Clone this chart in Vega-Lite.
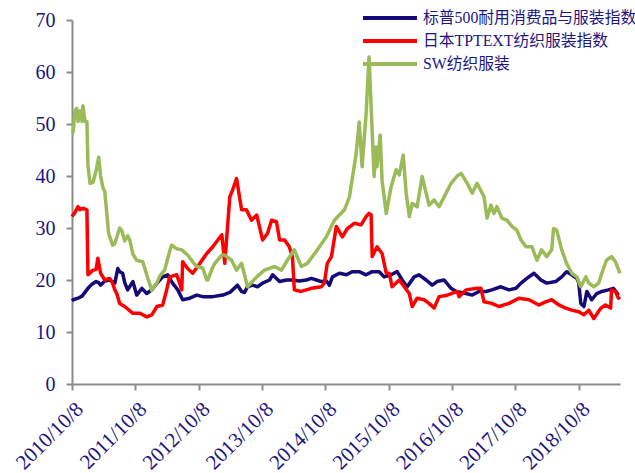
{
  "$schema": "https://vega.github.io/schema/vega-lite/v6.json",
  "width": 548,
  "height": 364,
  "autosize": {"type": "none"},
  "padding": {"left": 72, "top": 20, "right": 15, "bottom": 89},
  "background": "white",
  "config": {"view": {"stroke": null}, "font": "Liberation Serif"},
  "datasets": {
    "navy": [
      {"d":"2010-10-08","v":16.0},{"d":"2010-10-15","v":16.2},{"d":"2010-11-12","v":16.5},{"d":"2010-12-05","v":16.9},{"d":"2011-01-08","v":18.4},{"d":"2011-01-31","v":19.2},{"d":"2011-02-24","v":19.7},{"d":"2011-03-11","v":19.5},{"d":"2011-03-22","v":19.0},{"d":"2011-04-15","v":19.8},{"d":"2011-05-13","v":20.0},{"d":"2011-06-12","v":19.4},{"d":"2011-06-29","v":22.2},{"d":"2011-07-10","v":21.6},{"d":"2011-07-27","v":21.3},{"d":"2011-08-08","v":19.5},{"d":"2011-08-25","v":18.1},{"d":"2011-09-24","v":19.7},{"d":"2011-10-16","v":17.1},{"d":"2011-11-15","v":18.4},{"d":"2011-12-13","v":17.4},{"d":"2012-01-11","v":18.1},{"d":"2012-02-10","v":19.4},{"d":"2012-03-14","v":20.6},{"d":"2012-04-12","v":21.0},{"d":"2012-05-10","v":19.4},{"d":"2012-06-09","v":18.1},{"d":"2012-07-07","v":16.2},{"d":"2012-08-17","v":16.5},{"d":"2012-09-26","v":17.1},{"d":"2012-10-31","v":16.8},{"d":"2012-12-28","v":16.8},{"d":"2013-02-24","v":17.1},{"d":"2013-04-05","v":17.6},{"d":"2013-04-21","v":18.1},{"d":"2013-05-19","v":19.0},{"d":"2013-06-12","v":17.8},{"d":"2013-06-29","v":17.6},{"d":"2013-07-16","v":18.7},{"d":"2013-08-14","v":19.0},{"d":"2013-09-12","v":18.7},{"d":"2013-10-11","v":19.4},{"d":"2013-11-20","v":20.0},{"d":"2013-12-08","v":21.0},{"d":"2014-01-17","v":19.7},{"d":"2014-02-27","v":20.0},{"d":"2014-04-01","v":20.0},{"d":"2014-05-11","v":19.8},{"d":"2014-06-21","v":20.0},{"d":"2014-07-19","v":20.3},{"d":"2014-08-17","v":20.0},{"d":"2014-09-15","v":19.7},{"d":"2014-10-14","v":19.8},{"d":"2014-10-31","v":19.0},{"d":"2014-11-18","v":20.6},{"d":"2014-12-28","v":21.3},{"d":"2015-02-07","v":21.0},{"d":"2015-03-11","v":21.6},{"d":"2015-04-21","v":21.6},{"d":"2015-05-31","v":21.0},{"d":"2015-07-05","v":21.6},{"d":"2015-08-14","v":21.6},{"d":"2015-09-12","v":20.6},{"d":"2015-10-22","v":21.0},{"d":"2015-11-26","v":21.6},{"d":"2015-12-25","v":20.0},{"d":"2016-01-23","v":18.7},{"d":"2016-03-03","v":20.6},{"d":"2016-03-31","v":21.0},{"d":"2016-05-11","v":20.0},{"d":"2016-06-15","v":19.0},{"d":"2016-07-13","v":19.7},{"d":"2016-08-23","v":20.0},{"d":"2016-10-02","v":18.4},{"d":"2016-10-31","v":17.8},{"d":"2016-12-28","v":17.4},{"d":"2017-02-01","v":17.1},{"d":"2017-03-12","v":17.8},{"d":"2017-04-21","v":17.8},{"d":"2017-05-25","v":18.1},{"d":"2017-07-16","v":18.7},{"d":"2017-09-01","v":18.1},{"d":"2017-10-11","v":18.4},{"d":"2017-11-09","v":19.4},{"d":"2017-12-13","v":20.3},{"d":"2018-01-23","v":21.3},{"d":"2018-03-04","v":20.0},{"d":"2018-04-06","v":19.4},{"d":"2018-05-28","v":19.7},{"d":"2018-07-02","v":20.6},{"d":"2018-07-30","v":21.6},{"d":"2018-08-29","v":21.0},{"d":"2018-09-27","v":20.3},{"d":"2018-10-08","v":19.5},{"d":"2018-10-20","v":15.5},{"d":"2018-11-07","v":14.9},{"d":"2018-11-24","v":17.8},{"d":"2018-12-22","v":16.2},{"d":"2019-01-20","v":17.4},{"d":"2019-02-18","v":17.8},{"d":"2019-03-28","v":18.1},{"d":"2019-04-26","v":18.4},{"d":"2019-05-25","v":17.1}
    ],
    "red": [
      {"d":"2010-10-08","v":32.2},{"d":"2010-10-25","v":33.0},{"d":"2010-11-12","v":34.1},{"d":"2010-11-23","v":33.5},{"d":"2010-12-10","v":33.8},{"d":"2011-01-02","v":33.5},{"d":"2011-01-08","v":21.0},{"d":"2011-02-06","v":21.9},{"d":"2011-02-24","v":22.0},{"d":"2011-03-06","v":24.2},{"d":"2011-03-22","v":21.3},{"d":"2011-04-15","v":20.0},{"d":"2011-05-13","v":20.3},{"d":"2011-05-30","v":19.4},{"d":"2011-06-12","v":18.1},{"d":"2011-06-23","v":17.4},{"d":"2011-07-10","v":15.5},{"d":"2011-08-08","v":14.9},{"d":"2011-09-24","v":13.6},{"d":"2011-11-03","v":13.6},{"d":"2011-12-13","v":12.9},{"d":"2012-01-11","v":13.3},{"d":"2012-02-10","v":14.9},{"d":"2012-03-14","v":15.2},{"d":"2012-04-06","v":18.1},{"d":"2012-04-23","v":20.6},{"d":"2012-06-03","v":21.0},{"d":"2012-06-20","v":19.4},{"d":"2012-07-02","v":18.1},{"d":"2012-07-07","v":23.5},{"d":"2012-08-05","v":22.2},{"d":"2012-09-03","v":21.3},{"d":"2012-10-14","v":23.2},{"d":"2012-11-23","v":25.1},{"d":"2012-12-28","v":26.4},{"d":"2013-01-26","v":27.7},{"d":"2013-02-18","v":28.7},{"d":"2013-03-07","v":23.2},{"d":"2013-04-05","v":36.0},{"d":"2013-04-21","v":37.3},{"d":"2013-05-14","v":39.5},{"d":"2013-06-12","v":33.5},{"d":"2013-07-10","v":33.5},{"d":"2013-08-08","v":31.5},{"d":"2013-09-07","v":32.5},{"d":"2013-10-11","v":27.7},{"d":"2013-11-09","v":29.0},{"d":"2013-12-02","v":31.5},{"d":"2013-12-30","v":31.2},{"d":"2014-01-17","v":27.7},{"d":"2014-02-15","v":27.7},{"d":"2014-03-14","v":26.4},{"d":"2014-04-01","v":24.5},{"d":"2014-04-12","v":18.1},{"d":"2014-05-22","v":17.8},{"d":"2014-07-19","v":18.4},{"d":"2014-09-15","v":18.7},{"d":"2014-10-02","v":19.4},{"d":"2014-10-19","v":23.2},{"d":"2014-11-12","v":24.5},{"d":"2014-11-29","v":28.0},{"d":"2014-12-10","v":30.3},{"d":"2015-01-14","v":28.3},{"d":"2015-02-12","v":29.9},{"d":"2015-03-23","v":30.9},{"d":"2015-05-02","v":30.6},{"d":"2015-05-31","v":32.2},{"d":"2015-06-17","v":32.8},{"d":"2015-06-29","v":32.5},{"d":"2015-07-05","v":24.5},{"d":"2015-08-02","v":26.4},{"d":"2015-08-31","v":25.1},{"d":"2015-09-24","v":21.3},{"d":"2015-10-11","v":21.3},{"d":"2015-10-28","v":18.7},{"d":"2015-12-08","v":20.0},{"d":"2016-01-06","v":18.7},{"d":"2016-02-04","v":17.4},{"d":"2016-02-21","v":14.9},{"d":"2016-03-20","v":16.5},{"d":"2016-04-29","v":16.2},{"d":"2016-05-28","v":15.5},{"d":"2016-06-26","v":14.6},{"d":"2016-07-25","v":16.8},{"d":"2016-09-03","v":17.0},{"d":"2016-11-06","v":17.8},{"d":"2016-11-17","v":16.8},{"d":"2016-12-28","v":18.1},{"d":"2017-03-01","v":18.4},{"d":"2017-03-23","v":18.4},{"d":"2017-04-10","v":15.8},{"d":"2017-05-25","v":15.5},{"d":"2017-07-05","v":14.9},{"d":"2017-09-01","v":15.5},{"d":"2017-10-28","v":16.5},{"d":"2017-12-25","v":16.2},{"d":"2018-02-21","v":15.2},{"d":"2018-03-31","v":15.8},{"d":"2018-05-05","v":16.2},{"d":"2018-06-15","v":15.2},{"d":"2018-07-25","v":14.6},{"d":"2018-08-29","v":14.2},{"d":"2018-10-08","v":13.9},{"d":"2018-11-07","v":13.3},{"d":"2018-12-05","v":14.2},{"d":"2019-01-03","v":12.6},{"d":"2019-02-13","v":14.6},{"d":"2019-03-11","v":15.2},{"d":"2019-04-10","v":14.6},{"d":"2019-04-15","v":18.1},{"d":"2019-05-08","v":17.8},{"d":"2019-05-25","v":16.5},{"d":"2019-06-03","v":16.8}
    ],
    "green": [
      {"d":"2010-10-08","v":48.2},{"d":"2010-10-15","v":48.5},{"d":"2010-10-25","v":52.5},{"d":"2010-11-04","v":53.0},{"d":"2010-11-12","v":50.5},{"d":"2010-11-23","v":52.5},{"d":"2010-12-05","v":50.5},{"d":"2010-12-10","v":53.5},{"d":"2010-12-22","v":50.5},{"d":"2011-01-02","v":50.5},{"d":"2011-01-08","v":42.0},{"d":"2011-01-20","v":38.6},{"d":"2011-02-06","v":38.8},{"d":"2011-02-24","v":41.0},{"d":"2011-03-11","v":43.6},{"d":"2011-03-22","v":40.0},{"d":"2011-04-03","v":37.9},{"d":"2011-04-15","v":37.0},{"d":"2011-05-07","v":29.0},{"d":"2011-05-30","v":26.7},{"d":"2011-06-12","v":27.0},{"d":"2011-07-10","v":30.0},{"d":"2011-07-22","v":29.5},{"d":"2011-08-08","v":27.5},{"d":"2011-08-25","v":28.5},{"d":"2011-09-06","v":27.7},{"d":"2011-09-24","v":25.0},{"d":"2011-10-16","v":23.8},{"d":"2011-11-20","v":23.5},{"d":"2011-12-13","v":21.0},{"d":"2012-01-11","v":18.0},{"d":"2012-02-10","v":19.5},{"d":"2012-02-27","v":20.8},{"d":"2012-03-25","v":21.9},{"d":"2012-04-23","v":25.5},{"d":"2012-05-05","v":26.7},{"d":"2012-06-03","v":26.0},{"d":"2012-07-02","v":25.8},{"d":"2012-08-05","v":24.8},{"d":"2012-09-03","v":23.5},{"d":"2012-09-26","v":22.6},{"d":"2012-10-31","v":22.3},{"d":"2012-11-23","v":20.0},{"d":"2012-11-29","v":20.0},{"d":"2012-12-28","v":22.5},{"d":"2013-01-09","v":23.2},{"d":"2013-02-18","v":24.8},{"d":"2013-03-07","v":24.8},{"d":"2013-04-15","v":23.8},{"d":"2013-05-14","v":21.9},{"d":"2013-06-12","v":23.2},{"d":"2013-07-16","v":18.7},{"d":"2013-09-07","v":20.6},{"d":"2013-10-22","v":21.9},{"d":"2013-12-19","v":22.6},{"d":"2014-01-28","v":21.9},{"d":"2014-03-03","v":23.8},{"d":"2014-04-12","v":25.8},{"d":"2014-05-22","v":22.6},{"d":"2014-06-26","v":23.2},{"d":"2014-08-23","v":25.8},{"d":"2014-10-14","v":28.3},{"d":"2014-11-29","v":31.5},{"d":"2015-01-26","v":33.5},{"d":"2015-02-24","v":36.0},{"d":"2015-04-04","v":44.4},{"d":"2015-04-21","v":50.4},{"d":"2015-05-08","v":41.8},{"d":"2015-05-31","v":52.0},{"d":"2015-06-17","v":62.9},{"d":"2015-06-29","v":53.3},{"d":"2015-07-16","v":39.9},{"d":"2015-07-28","v":45.6},{"d":"2015-08-02","v":41.8},{"d":"2015-08-20","v":47.9},{"d":"2015-08-31","v":39.2},{"d":"2015-09-24","v":32.8},{"d":"2015-10-22","v":37.9},{"d":"2015-11-20","v":41.2},{"d":"2015-12-08","v":40.2},{"d":"2015-12-31","v":44.0},{"d":"2016-01-17","v":36.7},{"d":"2016-02-04","v":32.2},{"d":"2016-02-21","v":34.7},{"d":"2016-03-20","v":34.1},{"d":"2016-04-18","v":39.9},{"d":"2016-05-11","v":36.7},{"d":"2016-05-28","v":34.4},{"d":"2016-06-26","v":35.4},{"d":"2016-07-25","v":34.1},{"d":"2016-09-03","v":36.7},{"d":"2016-10-02","v":38.6},{"d":"2016-11-06","v":40.0},{"d":"2016-11-29","v":40.5},{"d":"2017-01-03","v":38.6},{"d":"2017-02-01","v":36.7},{"d":"2017-03-01","v":38.6},{"d":"2017-04-10","v":36.0},{"d":"2017-04-27","v":31.9},{"d":"2017-05-20","v":34.4},{"d":"2017-06-06","v":32.8},{"d":"2017-06-23","v":34.1},{"d":"2017-07-22","v":31.9},{"d":"2017-08-20","v":31.5},{"d":"2017-09-18","v":30.3},{"d":"2017-10-16","v":29.6},{"d":"2017-11-09","v":27.7},{"d":"2017-12-08","v":26.4},{"d":"2018-01-11","v":26.4},{"d":"2018-02-09","v":23.8},{"d":"2018-03-08","v":25.8},{"d":"2018-04-06","v":24.5},{"d":"2018-05-05","v":25.8},{"d":"2018-05-16","v":29.9},{"d":"2018-06-03","v":29.6},{"d":"2018-07-02","v":25.8},{"d":"2018-07-30","v":23.2},{"d":"2018-08-29","v":21.3},{"d":"2018-09-27","v":20.6},{"d":"2018-10-20","v":18.7},{"d":"2018-11-18","v":20.6},{"d":"2018-12-05","v":19.4},{"d":"2019-01-03","v":18.7},{"d":"2019-01-31","v":19.4},{"d":"2019-02-18","v":21.3},{"d":"2019-03-17","v":23.8},{"d":"2019-04-15","v":24.5},{"d":"2019-05-08","v":23.5},{"d":"2019-06-03","v":21.3}
    ]
  },
  "encoding": {
    "x": {
      "field": "d", "type": "temporal",
      "scale": {"type": "utc", "domain": [{"year": 2010, "month": 10, "date": 8, "utc": true}, {"year": 2019, "month": 6, "date": 3, "utc": true}], "nice": false},
      "axis": {
        "title": null, "grid": false,
        "values": [
          {"year": 2010, "month": 10, "date": 8, "utc": true},
          {"year": 2011, "month": 10, "date": 8, "utc": true},
          {"year": 2012, "month": 10, "date": 8, "utc": true},
          {"year": 2013, "month": 10, "date": 8, "utc": true},
          {"year": 2014, "month": 10, "date": 8, "utc": true},
          {"year": 2015, "month": 10, "date": 8, "utc": true},
          {"year": 2016, "month": 10, "date": 8, "utc": true},
          {"year": 2017, "month": 10, "date": 8, "utc": true},
          {"year": 2018, "month": 10, "date": 8, "utc": true}
        ],
        "labelExpr": "utcFormat(datum.value, '%Y/%-m/%-d')",
        "labelAngle": -45, "labelFontSize": 21, "labelFont": "Liberation Serif", "labelColor": "#1c1480",
        "domainColor": "#8c8c8c", "domainWidth": 2, "tickColor": "#8c8c8c", "tickWidth": 2, "tickSize": 6,
        "labelOverlap": false, "labelPadding": 8, "labelDx": -3
      }
    },
    "y": {
      "field": "v", "type": "quantitative",
      "scale": {"domain": [0, 70], "nice": false},
      "axis": {
        "title": null, "grid": false, "values": [0, 10, 20, 30, 40, 50, 60, 70],
        "labelFontSize": 20, "labelFont": "Liberation Serif", "labelColor": "#1c1480",
        "domainColor": "#8c8c8c", "domainWidth": 2, "tickColor": "#8c8c8c", "tickWidth": 2, "tickSize": 6, "labelPadding": 11
      }
    }
  },
  "layer": [
    {
      "data": {"name": "navy"},
      "mark": {"type": "line", "strokeWidth": 3.5, "strokeJoin": "round"},
      "encoding": {"color": {"datum": "标普500耐用消费品与服装指数", "type": "nominal"}}
    },
    {
      "data": {"name": "red"},
      "mark": {"type": "line", "strokeWidth": 3.5, "strokeJoin": "round"},
      "encoding": {"color": {"datum": "日本TPTEXT纺织服装指数", "type": "nominal"}}
    },
    {
      "data": {"name": "green"},
      "mark": {"type": "line", "strokeWidth": 3.5, "strokeJoin": "round"},
      "encoding": {
        "color": {
          "datum": "SW纺织服装", "type": "nominal",
          "scale": {
            "domain": ["标普500耐用消费品与服装指数", "日本TPTEXT纺织服装指数", "SW纺织服装"],
            "range": ["#140a78", "#ff0000", "#9bbb59"]
          },
          "legend": {
            "title": null, "orient": "none", "legendX": 323, "legendY": -14,
            "symbolType": "M-4.4,0H1", "symbolSize": 400, "symbolStrokeWidth": 4,
            "labelFont": "Liberation Serif, Noto Sans CJK SC", "labelFontSize": 15.8, "labelColor": "#1c1480",
            "labelOffset": 4, "rowPadding": 3, "labelLimit": 400
          }
        }
      }
    }
  ]
}
